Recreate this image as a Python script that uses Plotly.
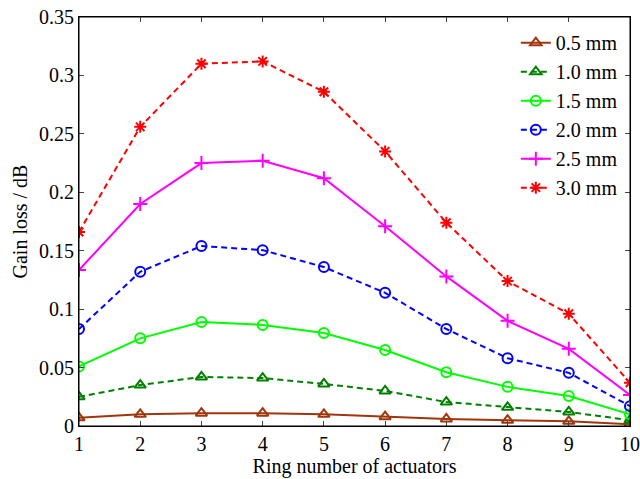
import plotly.graph_objects as go

rings = [1, 2, 3, 4, 5, 6, 7, 8, 9, 10]
labels = ["0.5 mm", "1.0 mm", "1.5 mm", "2.0 mm", "2.5 mm", "3.0 mm"]
loss_05 = [0.007, 0.010, 0.011, 0.011, 0.010, 0.008, 0.006, 0.005, 0.004, 0.0015]
loss_10 = [0.025, 0.035, 0.042, 0.041, 0.036, 0.030, 0.0205, 0.016, 0.012, 0.005]
loss_15 = [0.051, 0.075, 0.089, 0.0865, 0.0795, 0.065, 0.046, 0.0335, 0.0257, 0.010]
loss_20 = [0.083, 0.132, 0.154, 0.1505, 0.136, 0.114, 0.083, 0.058, 0.0455, 0.017]
loss_25 = [0.1335, 0.190, 0.225, 0.227, 0.212, 0.171, 0.128, 0.090, 0.066, 0.0265]
loss_30 = [0.166, 0.256, 0.310, 0.312, 0.286, 0.235, 0.174, 0.124, 0.096, 0.037]
yticks = [0, 0.05, 0.1, 0.15, 0.2, 0.25, 0.3, 0.35]
ytick_text = ["0", "0.05", "0.1", "0.15", "0.2", "0.25", "0.3", "0.35"]

series = [loss_05, loss_10, loss_15, loss_20, loss_25, loss_30]
colors = ["#A0360C", "#008000", "#00FF00", "#0000FF", "#FF00FF", "#FF0000"]
dashes = ["solid", "6px,4px", "solid", "6px,4px", "solid", "6px,4px"]
symbols = ["triangle-up-open", "triangle-up-open", "circle-open", "circle-open",
           "cross-thin-open", "asterisk-open"]

fig = go.Figure()
for lab, ys, c, d, s in zip(labels, series, colors, dashes, symbols):
    fig.add_trace(go.Scatter(
        x=rings, y=ys, name=lab, mode="lines+markers",
        line=dict(color=c, width=2, dash=d),
        marker=dict(symbol=s, size=10, color=c, line=dict(color=c, width=2)),
    ))

font = "Liberation Serif"
fig.update_layout(
    width=640, height=479,
    margin=dict(l=79, r=10, t=17, b=53, autoexpand=False),
    plot_bgcolor="white", paper_bgcolor="white",
    font=dict(family=font, size=20, color="black"),
    showlegend=True,
    legend=dict(x=0.987, y=0.985, xanchor="right", yanchor="top",
                bgcolor="rgba(255,255,255,0)", borderwidth=0,
                font=dict(family=font, size=20), tracegroupgap=0),
    shapes=[dict(type="rect", xref="paper", yref="paper", x0=0, y0=0, x1=1, y1=1,
                 line=dict(color="black", width=1), fillcolor="rgba(0,0,0,0)",
                 layer="above")],
)
fig.update_xaxes(
    range=[1, 10], tickvals=rings, ticks="inside", ticklen=5, tickwidth=1,
    showline=True, linecolor="black", linewidth=1, mirror="ticks",
    showgrid=False, zeroline=False, automargin=False,
    tickfont=dict(family=font, size=20),
    title=dict(text="Ring number of actuators", standoff=2, font=dict(family=font, size=20)),
)
fig.update_yaxes(
    range=[0, 0.35], tickvals=yticks, ticktext=ytick_text, ticks="inside",
    ticklen=5, tickwidth=1,
    showline=True, linecolor="black", linewidth=1, mirror="ticks",
    showgrid=False, zeroline=False, automargin=False,
    tickfont=dict(family=font, size=20),
    title=dict(text="Gain loss / dB", standoff=6, font=dict(family=font, size=20)),
)
fig.write_html(
    "out.html",
    config={"displayModeBar": False},
    post_script="document.body.style.margin='0';document.body.style.overflow='hidden';",
)
